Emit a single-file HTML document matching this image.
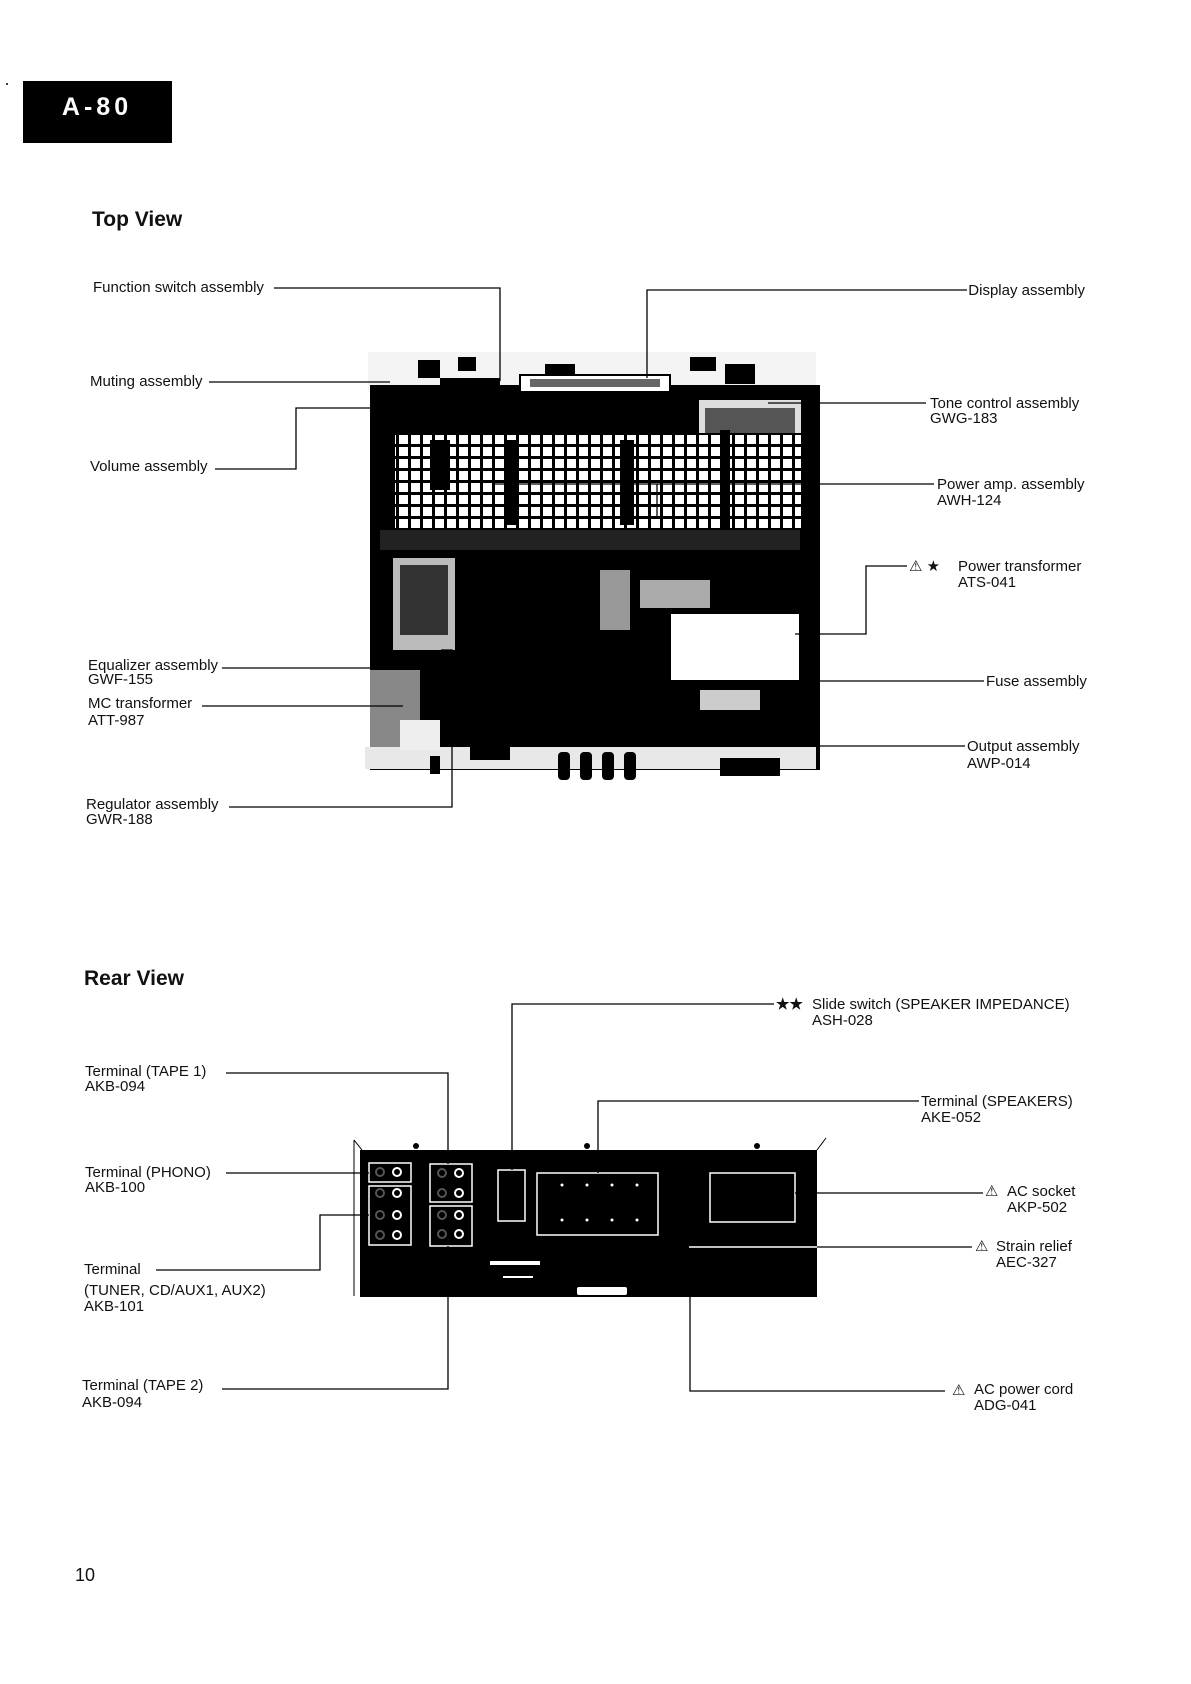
<!DOCTYPE html>
<html><head><meta charset="utf-8"><style>
html,body{margin:0;padding:0;background:#fff;}
svg{display:block;}
text{font-family:"Liberation Sans",sans-serif;fill:#111;}
.l{font-size:15px;}
.t{font-size:21px;font-weight:bold;}
</style></head><body>
<svg width="1191" height="1684" viewBox="0 0 1191 1684" xmlns="http://www.w3.org/2000/svg">
<defs>
<pattern id="grid" width="12" height="12" patternUnits="userSpaceOnUse">
<rect width="12" height="12" fill="#fff"/>
<rect x="0" y="0" width="12" height="3" fill="#000"/>
<rect x="0" y="0" width="3" height="12" fill="#000"/>
</pattern>
</defs>
<circle cx="7" cy="84" r="1" fill="#000"/>
<rect x="23" y="81" width="149" height="62" fill="#000"/>
<text x="97" y="115" text-anchor="middle" style="font-size:25px;font-weight:bold;fill:#fff;letter-spacing:4px">A-80</text>
<text x="92" y="226" class="t">Top View</text>

<!-- chassis photo -->
<g>
<rect x="368" y="352" width="448" height="40" fill="#f4f4f4"/>
<rect x="370" y="385" width="450" height="385" fill="#000"/>
<rect x="418" y="360" width="22" height="18" fill="#000"/>
<rect x="458" y="357" width="18" height="14" fill="#000"/>
<rect x="545" y="364" width="30" height="20" fill="#000"/>
<rect x="690" y="357" width="26" height="14" fill="#000"/>
<rect x="725" y="364" width="30" height="20" fill="#000"/>
<rect x="440" y="378" width="60" height="30" fill="#000"/>
<rect x="520" y="375" width="150" height="17" fill="#fff" stroke="#000" stroke-width="2"/>
<rect x="530" y="379" width="130" height="8" fill="#000" opacity="0.6"/>
<rect x="699" y="400" width="102" height="44" fill="#ddd"/>
<rect x="705" y="408" width="90" height="28" fill="#555"/>
<rect x="395" y="433" width="406" height="97" fill="url(#grid)"/>
<rect x="430" y="440" width="20" height="50" fill="#000"/>
<rect x="505" y="440" width="14" height="85" fill="#000"/>
<rect x="620" y="440" width="14" height="85" fill="#000"/>
<rect x="720" y="430" width="10" height="100" fill="#000"/>
<rect x="380" y="530" width="420" height="20" fill="#222"/>
<rect x="393" y="558" width="62" height="92" fill="#bbb"/>
<rect x="400" y="565" width="48" height="70" fill="#333"/>
<rect x="600" y="570" width="30" height="60" fill="#999"/>
<rect x="640" y="580" width="70" height="28" fill="#aaa"/>
<rect x="671" y="614" width="128" height="66" fill="#fff"/>
<rect x="370" y="670" width="50" height="80" fill="#888"/>
<rect x="700" y="690" width="60" height="20" fill="#ccc"/>
<rect x="365" y="747" width="451" height="22" fill="#e8e8e8"/>
<rect x="400" y="720" width="40" height="30" fill="#eee"/>
<rect x="430" y="756" width="10" height="18" fill="#000"/>
<rect x="470" y="740" width="40" height="20" fill="#000"/>
<rect x="558" y="752" width="12" height="28" rx="4" fill="#000"/>
<rect x="580" y="752" width="12" height="28" rx="4" fill="#000"/>
<rect x="602" y="752" width="12" height="28" rx="4" fill="#000"/>
<rect x="624" y="752" width="12" height="28" rx="4" fill="#000"/>
<rect x="720" y="758" width="60" height="18" fill="#000"/>
</g>

<g stroke="#000" stroke-width="1.3" fill="none">
<polyline points="274,288 500,288 500,381"/>
<polyline points="647,378 647,290 967,290"/>
<line x1="209" y1="382" x2="390" y2="382"/>
<polyline points="215,469 296,469 296,408 446,408"/>
<line x1="768" y1="403" x2="926" y2="403"/>
<polyline points="494,516 494,484 934,484"/>
<line x1="657" y1="484" x2="657" y2="516"/>
<polyline points="795,634 866,634 866,566 907,566"/>
<polyline points="601,634 638,634 638,681 984,681"/>
<polyline points="638,730 638,746 965,746"/>
<line x1="222" y1="668" x2="397" y2="668"/>
<line x1="202" y1="706" x2="403" y2="706"/>
<polyline points="229,807 452,807 452,650 441,650"/>
</g>
<g>
<text x="93" y="292" class="l">Function switch assembly</text>
<text x="1085" y="295" class="l" text-anchor="end">Display assembly</text>
<text x="90" y="386" class="l">Muting assembly</text>
<text x="90" y="471" class="l">Volume assembly</text>
<text x="930" y="408" class="l">Tone control assembly</text>
<text x="930" y="423" class="l">GWG-183</text>
<text x="937" y="489" class="l">Power amp. assembly</text>
<text x="937" y="505" class="l">AWH-124</text>
<text x="909" y="571" class="l">⚠ ★</text>
<text x="958" y="571" class="l">Power transformer</text>
<text x="958" y="587" class="l">ATS-041</text>
<text x="986" y="686" class="l">Fuse assembly</text>
<text x="967" y="751" class="l">Output assembly</text>
<text x="967" y="768" class="l">AWP-014</text>
<text x="88" y="670" class="l">Equalizer assembly</text>
<text x="88" y="684" class="l">GWF-155</text>
<text x="88" y="708" class="l">MC transformer</text>
<text x="88" y="725" class="l">ATT-987</text>
<text x="86" y="809" class="l">Regulator assembly</text>
<text x="86" y="824" class="l">GWR-188</text>
</g>

<text x="84" y="985" class="t">Rear View</text>

<!-- rear panel -->
<line x1="354" y1="1140" x2="354" y2="1296" stroke="#000" stroke-width="1"/>
<line x1="354" y1="1140" x2="362" y2="1150" stroke="#000" stroke-width="1"/>
<line x1="817" y1="1150" x2="826" y2="1138" stroke="#000" stroke-width="1"/>
<rect x="360" y="1150" width="457" height="147" fill="#000"/>
<circle cx="416" cy="1146" r="3" fill="#000"/><circle cx="587" cy="1146" r="3" fill="#000"/><circle cx="757" cy="1146" r="3" fill="#000"/>
<g fill="none" stroke="#fff" stroke-width="1.5">
<rect x="369" y="1163" width="42" height="19"/>
<rect x="369" y="1186" width="42" height="59"/>
<rect x="430" y="1164" width="42" height="38"/>
<rect x="430" y="1206" width="42" height="40"/>
<rect x="498" y="1170" width="27" height="51"/>
<rect x="537" y="1173" width="121" height="62"/>
<rect x="710" y="1173" width="85" height="49"/>
</g>
<g fill="none" stroke="#fff" stroke-width="2">
<circle cx="380" cy="1172" r="4" stroke="#555"/><circle cx="397" cy="1172" r="4"/>
<circle cx="380" cy="1193" r="4" stroke="#555"/><circle cx="397" cy="1193" r="4"/>
<circle cx="380" cy="1215" r="4" stroke="#555"/><circle cx="397" cy="1215" r="4"/>
<circle cx="380" cy="1235" r="4" stroke="#555"/><circle cx="397" cy="1235" r="4"/>
<circle cx="442" cy="1173" r="4" stroke="#555"/><circle cx="459" cy="1173" r="4"/>
<circle cx="442" cy="1193" r="4" stroke="#555"/><circle cx="459" cy="1193" r="4"/>
<circle cx="442" cy="1215" r="4" stroke="#555"/><circle cx="459" cy="1215" r="4"/>
<circle cx="442" cy="1234" r="4" stroke="#555"/><circle cx="459" cy="1234" r="4"/>
</g>
<g fill="#fff">
<circle cx="562" cy="1185" r="1.5"/><circle cx="587" cy="1185" r="1.5"/><circle cx="612" cy="1185" r="1.5"/><circle cx="637" cy="1185" r="1.5"/>
<circle cx="562" cy="1220" r="1.5"/><circle cx="587" cy="1220" r="1.5"/><circle cx="612" cy="1220" r="1.5"/><circle cx="637" cy="1220" r="1.5"/>
<rect x="490" y="1261" width="50" height="4"/>
<rect x="503" y="1276" width="30" height="2"/>
<rect x="577" y="1287" width="50" height="8" rx="2"/>
</g>
<g stroke="#000" stroke-width="1.3" fill="none">
<polyline points="512,1170 512,1004 774,1004"/>
<polyline points="226,1073 448,1073 448,1164"/>
<polyline points="598,1173 598,1101 919,1101"/>
<line x1="226" y1="1173" x2="369" y2="1173"/>
<line x1="795" y1="1193" x2="983" y2="1193"/>
<polyline points="156,1270 320,1270 320,1215 369,1215"/>
<polyline points="222,1389 448,1389 448,1246"/>
<polyline points="690,1275 690,1391 945,1391"/>
</g>
<line x1="689" y1="1247" x2="972" y2="1247" stroke="#fff" stroke-width="1.5"/>
<line x1="817" y1="1247" x2="972" y2="1247" stroke="#000" stroke-width="1.3"/>
<g>
<text x="776" y="1009" class="l" style="font-weight:bold">★★</text>
<text x="812" y="1009" class="l">Slide switch (SPEAKER IMPEDANCE)</text>
<text x="812" y="1025" class="l">ASH-028</text>
<text x="85" y="1076" class="l">Terminal (TAPE 1)</text>
<text x="85" y="1091" class="l">AKB-094</text>
<text x="921" y="1106" class="l">Terminal (SPEAKERS)</text>
<text x="921" y="1122" class="l">AKE-052</text>
<text x="85" y="1177" class="l">Terminal (PHONO)</text>
<text x="85" y="1192" class="l">AKB-100</text>
<text x="985" y="1196" class="l">⚠</text>
<text x="1007" y="1196" class="l">AC socket</text>
<text x="1007" y="1212" class="l">AKP-502</text>
<text x="975" y="1251" class="l">⚠</text>
<text x="996" y="1251" class="l">Strain relief</text>
<text x="996" y="1267" class="l">AEC-327</text>
<text x="84" y="1274" class="l">Terminal</text>
<text x="84" y="1295" class="l">(TUNER,  CD/AUX1, AUX2)</text>
<text x="84" y="1311" class="l">AKB-101</text>
<text x="82" y="1390" class="l">Terminal (TAPE 2)</text>
<text x="82" y="1407" class="l">AKB-094</text>
<text x="952" y="1395" class="l">⚠</text>
<text x="974" y="1394" class="l">AC power cord</text>
<text x="974" y="1410" class="l">ADG-041</text>
</g>
<text x="75" y="1581" style="font-size:18px">10</text>
</svg>
</body></html>
